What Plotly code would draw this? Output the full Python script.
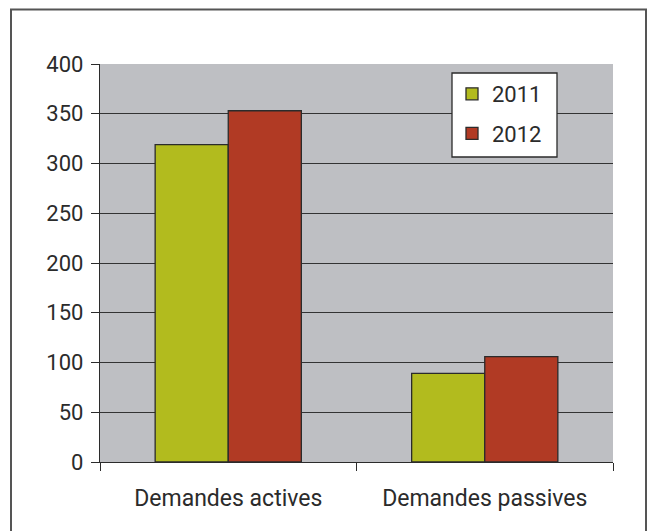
import plotly.graph_objects as go

# Demandes par type, 2011 vs 2012
categories = ["Demandes actives", "Demandes passives"]
years = ["2011", "2012"]
values_2011 = [319, 89]
values_2012 = [353, 106]

series = {"2011": values_2011, "2012": values_2012}
colors = {"2011": "#B2BB1E", "2012": "#B13A24"}

FONT = "Roboto"
INK = "#2b2b2b"

# plot area in pixels: x 100..613, y 64..462
L, R, T, B = 100, 38, 64, 69
PW, PH = 651 - L - R, 531 - T - B


def px_x(x):
    return (x - L) / PW


def px_y(y):
    return (T + PH - y) / PH


fig = go.Figure()
for i, year in enumerate(years):
    fig.add_trace(go.Bar(
        name=year,
        x=categories,
        y=series[year],
        marker=dict(color=colors[year], line=dict(color=INK, width=1.3)),
        legendgroup=year,
    ))

fig.update_layout(
    width=651,
    height=531,
    margin=dict(l=L, r=R, t=T, b=B),
    paper_bgcolor="white",
    plot_bgcolor="#BEBFC3",
    barmode="group",
    bargap=0.43,
    bargroupgap=0,
    font=dict(family=FONT, size=21, color=INK),
    legend=dict(
        x=px_x(452), y=px_y(73), xanchor="left", yanchor="top",
        bgcolor="rgba(0,0,0,0)", borderwidth=0,
        font=dict(family=FONT, size=22, color=INK),
        tracegroupgap=8,
        traceorder="grouped",
    ),
    xaxis=dict(
        showline=True, linecolor=INK, linewidth=1.3,
        ticks="outside", tickson="boundaries", ticklen=8, tickcolor=INK, tickwidth=1.3,
        showgrid=False,
        tickfont=dict(family=FONT, size=23, color=INK),
        ticklabelstandoff=15,
    ),
    yaxis=dict(
        range=[0, 400], dtick=50,
        showline=True, linecolor=INK, linewidth=1.3,
        ticks="outside", ticklen=8, tickcolor=INK, tickwidth=1.3,
        showgrid=True, gridcolor="#333333", gridwidth=1,
        zeroline=False,
        tickfont=dict(family=FONT, size=22, color=INK),
        ticklabelstandoff=3,
    ),
    shapes=[
        # outer frame
        dict(
            type="rect", xref="paper", yref="paper",
            x0=px_x(11), x1=px_x(646), y0=px_y(545), y1=px_y(9.5),
            line=dict(color="#555555", width=2), fillcolor="rgba(0,0,0,0)",
            layer="below",
        ),
        # legend box
        dict(
            type="rect", xref="paper", yref="paper",
            x0=px_x(452), x1=px_x(557), y0=px_y(157), y1=px_y(73),
            line=dict(color=INK, width=1.3), fillcolor="white",
            layer="above",
        ),
    ],
)

fig.write_html("out.html")
